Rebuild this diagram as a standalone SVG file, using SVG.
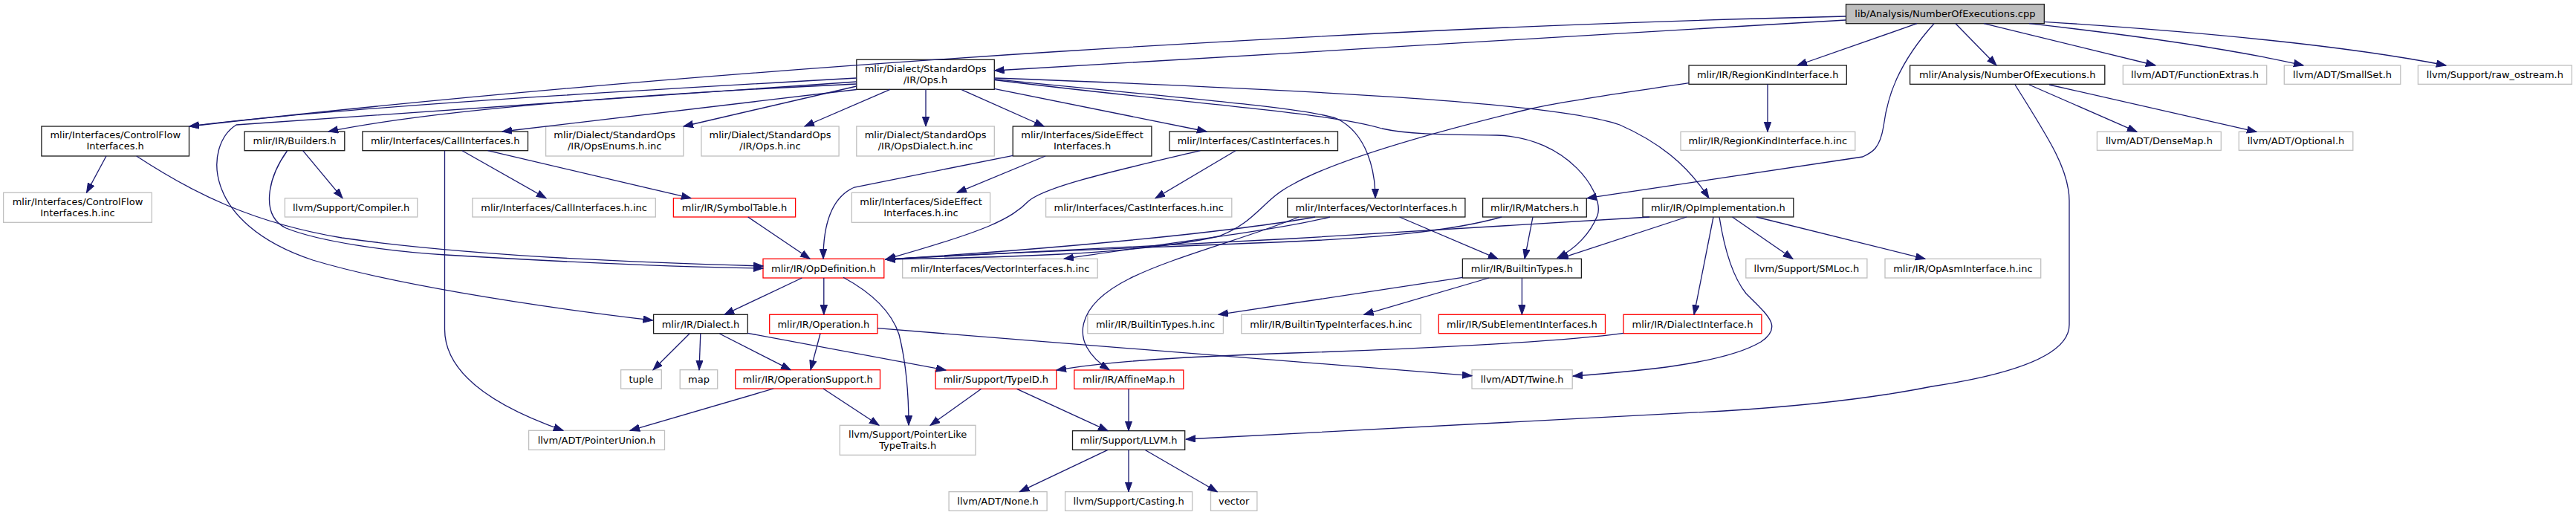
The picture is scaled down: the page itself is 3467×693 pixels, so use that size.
<svg xmlns="http://www.w3.org/2000/svg" width="3467" height="693" viewBox="0 0 3467 693">
<style>
text{font-family:"DejaVu Sans","Liberation Sans",sans-serif;font-size:13px;fill:#000;text-anchor:middle}
rect{fill:#fff;stroke-width:1.3}
.k rect{stroke:#1a1a1a}
.g rect{stroke:#bfbfbf}
.r rect{stroke:#ff0000}
.root rect{fill:#bfbfbf;stroke:#1a1a1a}
#connectors path{fill:none;stroke:#191970;stroke-width:1.3;marker-end:url(#a)}
</style>
<defs>
<marker id="a" markerUnits="userSpaceOnUse" markerWidth="14" markerHeight="11" refX="13" refY="5" orient="auto">
<path d="M0,0.3 L13,5 L0,9.7 z" fill="#191970" stroke="#191970" stroke-width="1"/>
</marker>
</defs>
<rect x="0" y="0" width="3467" height="693" style="fill:#fff;stroke:none"/>
<g id="nodes">
<g id="root" class="root"><rect x="2484.5" y="5.7" width="266.8" height="26"/><text x="2617.9" y="23.2">lib/Analysis/NumberOfExecutions.cpp</text></g>
<g id="opsh" class="k"><rect x="1152.8" y="80.3" width="185.5" height="40"/><text x="1245.6" y="96.6">mlir/Dialect/StandardOps</text><text x="1245.6" y="111.6">/IR/Ops.h</text></g>
<g id="cfi" class="k"><rect x="55.9" y="170" width="198.6" height="40"/><text x="155.2" y="186.3">mlir/Interfaces/ControlFlow</text><text x="155.2" y="201.3">Interfaces.h</text></g>
<g id="cfiinc" class="g"><rect x="4.6" y="259.3" width="199.7" height="40"/><text x="104.5" y="275.6">mlir/Interfaces/ControlFlow</text><text x="104.5" y="290.6">Interfaces.h.inc</text></g>
<g id="builders" class="k"><rect x="329.1" y="177" width="134.7" height="25.7"/><text x="396.5" y="194.4">mlir/IR/Builders.h</text></g>
<g id="compiler" class="g"><rect x="383.4" y="266.7" width="178.3" height="25.3"/><text x="472.6" y="283.9">llvm/Support/Compiler.h</text></g>
<g id="callif" class="k"><rect x="487.9" y="177" width="222.6" height="25.7"/><text x="599.2" y="194.4">mlir/Interfaces/CallInterfaces.h</text></g>
<g id="opsenums" class="g"><rect x="734.6" y="170" width="185.2" height="40"/><text x="827.2" y="186.3">mlir/Dialect/StandardOps</text><text x="827.2" y="201.3">/IR/OpsEnums.h.inc</text></g>
<g id="opsinc" class="g"><rect x="943.9" y="170" width="185.2" height="40"/><text x="1036.5" y="186.3">mlir/Dialect/StandardOps</text><text x="1036.5" y="201.3">/IR/Ops.h.inc</text></g>
<g id="opsdialect" class="g"><rect x="1152.8" y="170" width="185.5" height="40"/><text x="1245.6" y="186.3">mlir/Dialect/StandardOps</text><text x="1245.6" y="201.3">/IR/OpsDialect.h.inc</text></g>
<g id="sideeffect" class="k"><rect x="1363.2" y="170" width="186.7" height="40"/><text x="1456.6" y="186.3">mlir/Interfaces/SideEffect</text><text x="1456.6" y="201.3">Interfaces.h</text></g>
<g id="castif" class="k"><rect x="1574" y="177" width="226.5" height="25.7"/><text x="1687.3" y="194.4">mlir/Interfaces/CastInterfaces.h</text></g>
<g id="callifinc" class="g"><rect x="635.9" y="266.7" width="246.4" height="25.3"/><text x="759.1" y="283.9">mlir/Interfaces/CallInterfaces.h.inc</text></g>
<g id="symtab" class="r"><rect x="906.4" y="266.7" width="164.2" height="25.3"/><text x="988.5" y="283.9">mlir/IR/SymbolTable.h</text></g>
<g id="sideeffectinc" class="g"><rect x="1146.3" y="259.3" width="186.3" height="40"/><text x="1239.5" y="275.6">mlir/Interfaces/SideEffect</text><text x="1239.5" y="290.6">Interfaces.h.inc</text></g>
<g id="castifinc" class="g"><rect x="1407.6" y="266.7" width="250.2" height="25.3"/><text x="1532.7" y="283.9">mlir/Interfaces/CastInterfaces.h.inc</text></g>
<g id="vectorif" class="k"><rect x="1732.8" y="266.7" width="239.1" height="25.3"/><text x="1852.4" y="283.9">mlir/Interfaces/VectorInterfaces.h</text></g>
<g id="matchers" class="k"><rect x="1995.6" y="266.7" width="139.7" height="25.3"/><text x="2065.5" y="283.9">mlir/IR/Matchers.h</text></g>
<g id="opimpl" class="k"><rect x="2211" y="266.7" width="202.8" height="25.3"/><text x="2312.4" y="283.9">mlir/IR/OpImplementation.h</text></g>
<g id="regionkind" class="k"><rect x="2273" y="88" width="212.3" height="25.3"/><text x="2379.2" y="105.2">mlir/IR/RegionKindInterface.h</text></g>
<g id="regionkindinc" class="g"><rect x="2262" y="177.3" width="234.8" height="25"/><text x="2379.4" y="194.3">mlir/IR/RegionKindInterface.h.inc</text></g>
<g id="noeh" class="k"><rect x="2570.6" y="88" width="262.2" height="25.3"/><text x="2701.7" y="105.2">mlir/Analysis/NumberOfExecutions.h</text></g>
<g id="funcextras" class="g"><rect x="2857.3" y="88" width="193.4" height="25.3"/><text x="2954" y="105.2">llvm/ADT/FunctionExtras.h</text></g>
<g id="smallset" class="g"><rect x="3074.3" y="88" width="156.5" height="25.3"/><text x="3152.6" y="105.2">llvm/ADT/SmallSet.h</text></g>
<g id="rawostream" class="g"><rect x="3254.4" y="88" width="207" height="25.3"/><text x="3357.9" y="105.2">llvm/Support/raw_ostream.h</text></g>
<g id="densemap" class="g"><rect x="2822.4" y="177.3" width="166.9" height="25"/><text x="2905.9" y="194.3">llvm/ADT/DenseMap.h</text></g>
<g id="optional" class="g"><rect x="3013.3" y="177.3" width="153.5" height="25"/><text x="3090" y="194.3">llvm/ADT/Optional.h</text></g>
<g id="opdef" class="r"><rect x="1027" y="348.3" width="162.8" height="25.7"/><text x="1108.4" y="365.7">mlir/IR/OpDefinition.h</text></g>
<g id="vectorifinc" class="g"><rect x="1214.7" y="348.3" width="262.5" height="25.7"/><text x="1346" y="365.7">mlir/Interfaces/VectorInterfaces.h.inc</text></g>
<g id="builtintypes" class="k"><rect x="1968.4" y="348.3" width="160" height="25.7"/><text x="2048.4" y="365.7">mlir/IR/BuiltinTypes.h</text></g>
<g id="smloc" class="g"><rect x="2349.8" y="348.3" width="163.1" height="25.7"/><text x="2431.4" y="365.7">llvm/Support/SMLoc.h</text></g>
<g id="opasm" class="g"><rect x="2537" y="348.3" width="209.7" height="25.7"/><text x="2641.9" y="365.7">mlir/IR/OpAsmInterface.h.inc</text></g>
<g id="dialect" class="k"><rect x="879.6" y="423.3" width="126.7" height="25.4"/><text x="943" y="440.5">mlir/IR/Dialect.h</text></g>
<g id="operation" class="r"><rect x="1035.7" y="423.3" width="145.3" height="25.4"/><text x="1108.4" y="440.5">mlir/IR/Operation.h</text></g>
<g id="builtintypesinc" class="g"><rect x="1463.8" y="423.3" width="182.6" height="25.4"/><text x="1555.1" y="440.5">mlir/IR/BuiltinTypes.h.inc</text></g>
<g id="builtintypeifinc" class="g"><rect x="1670.8" y="423.3" width="241.4" height="25.4"/><text x="1791.5" y="440.5">mlir/IR/BuiltinTypeInterfaces.h.inc</text></g>
<g id="subelem" class="r"><rect x="1936.3" y="423.3" width="224.2" height="25.4"/><text x="2048.4" y="440.5">mlir/IR/SubElementInterfaces.h</text></g>
<g id="dialectif" class="r"><rect x="2185" y="423.3" width="185.9" height="25.4"/><text x="2278" y="440.5">mlir/IR/DialectInterface.h</text></g>
<g id="tuple" class="g"><rect x="835.6" y="497.7" width="54.7" height="25.3"/><text x="863" y="514.9">tuple</text></g>
<g id="map" class="g"><rect x="915.2" y="497.7" width="50.5" height="25.3"/><text x="940.5" y="514.9">map</text></g>
<g id="opsupport" class="r"><rect x="989.8" y="497.7" width="194.7" height="25.3"/><text x="1087.2" y="514.9">mlir/IR/OperationSupport.h</text></g>
<g id="typeid" class="r"><rect x="1259.1" y="498" width="162.6" height="25.3"/><text x="1340.4" y="515.2">mlir/Support/TypeID.h</text></g>
<g id="affinemap" class="r"><rect x="1445.8" y="498" width="147" height="25.3"/><text x="1519.3" y="515.2">mlir/IR/AffineMap.h</text></g>
<g id="twine" class="g"><rect x="1981" y="497.7" width="135.2" height="25.3"/><text x="2048.6" y="514.9">llvm/ADT/Twine.h</text></g>
<g id="pointerunion" class="g"><rect x="711.6" y="579.3" width="182.9" height="26"/><text x="803" y="596.8">llvm/ADT/PointerUnion.h</text></g>
<g id="pointerlike" class="g"><rect x="1130.3" y="572.3" width="182.7" height="40"/><text x="1221.7" y="588.6">llvm/Support/PointerLike</text><text x="1221.7" y="603.6">TypeTraits.h</text></g>
<g id="llvmh" class="k"><rect x="1443.5" y="579.7" width="151.2" height="25.6"/><text x="1519.1" y="597">mlir/Support/LLVM.h</text></g>
<g id="none" class="g"><rect x="1277.1" y="661.7" width="132" height="25.6"/><text x="1343.1" y="679">llvm/ADT/None.h</text></g>
<g id="casting" class="g"><rect x="1433.6" y="661.7" width="171" height="25.6"/><text x="1519.1" y="679">llvm/Support/Casting.h</text></g>
<g id="vector" class="g"><rect x="1629.5" y="661.7" width="62.4" height="25.6"/><text x="1660.7" y="679">vector</text></g>
</g>
<g id="connectors">
<path d="M2484,27 L1338.5,95"/>
<path d="M2484,22 C1900,35 1000,85 255,170"/>
<path d="M2580,31.7 L2419,88"/>
<path d="M2603,31.7 C2555,85 2540,130 2535,170 C2530,200 2520,205 2507,211 L2136,266.7"/>
<path d="M2632,31.7 L2687,88"/>
<path d="M2670,31.7 L2901,88"/>
<path d="M2731,31.7 C2850,45 3000,65 3100,88"/>
<path d="M2751,29.3 C2950,42 3150,60 3292,88"/>
<path d="M2731,114 L2876,177.3"/>
<path d="M2758,114 L3037,177.3"/>
<path d="M2712,114 C2760,190 2785,230 2785,270 L2785,437 C2785,480 2700,505 2600,520 C2500,540 2400,548 2320,553 L1596,591"/>
<path d="M2379,113.3 L2379,177.3"/>
<path d="M2273,111.7 C2180,126 2110,135 2057,147 C1900,185 1790,220 1740,248 C1700,268 1690,300 1640,318 C1520,345 1300,347 1192,349"/>
<path d="M1152.8,105 C800,125 450,145 255,170"/>
<path d="M1152.8,110 L318,168 C275,195 270,300 421,350 C520,380 700,410 878.5,431"/>
<path d="M1152.8,113 C900,125 600,145 442,177"/>
<path d="M1152.8,120.5 L676,177"/>
<path d="M1152.8,116 L920,170"/>
<path d="M1198,120.3 L1083,170"/>
<path d="M1246,120.3 L1246,170"/>
<path d="M1294,120.7 L1405,170"/>
<path d="M1338,119.3 L1624,177"/>
<path d="M1338.3,105 C1800,122 2100,140 2180,168 C2230,190 2270,220 2300,266.7"/>
<path d="M1338.3,106.7 C1600,133 1760,145 1800,160 C1840,180 1851,230 1851,266.7"/>
<path d="M1338.3,107.5 C1600,140 1780,150 1860,173 C1900,182 1960,181 2015,182 C2110,185 2160,260 2150,290 C2140,315 2120,335 2096,347"/>
<path d="M143,210 L116.5,259.3"/>
<path d="M183.7,210 C260,260 340,300 460,320 C600,340 800,352 1027,358"/>
<path d="M407.6,202.7 L461,266.7"/>
<path d="M386.5,203 C360,240 350,290 385,307 C430,325 520,338 600,343 C800,355 950,360 1027,361"/>
<path d="M622,202.7 L735,266.7"/>
<path d="M656.5,202.7 L930,266.7"/>
<path d="M598.5,202.7 L598.5,443 C598.5,500 660,545 758,579.3"/>
<path d="M1006.7,292 L1090,348.3"/>
<path d="M1407,210 L1288,259.3"/>
<path d="M1363.2,209.3 L1150,252 C1120,265 1108,300 1108,348.3"/>
<path d="M1663,202.7 L1555,266.7"/>
<path d="M1615.5,202.7 C1500,230 1410,250 1385,270 C1360,295 1330,310 1192,349"/>
<path d="M1790,292 C1720,310 1550,330 1432,348.3"/>
<path d="M1770,292 C1700,305 1500,330 1192,349"/>
<path d="M1883.5,292 L2016,348.3"/>
<path d="M1748,292 C1680,320 1580,345 1520,375 C1450,410 1435,460 1493,497.7"/>
<path d="M2063,292 L2052,348.3"/>
<path d="M2021,292 C1950,312 1850,320 1740,325 C1500,335 1300,342 1192,349"/>
<path d="M2220,292 C2000,306 1800,318 1740,321 C1500,333 1300,342 1192,349"/>
<path d="M2270,292 L2098,348.3"/>
<path d="M2331.5,292 L2413,348.3"/>
<path d="M2364,292 L2591,348.3"/>
<path d="M2306,292 L2280,423.3"/>
<path d="M2314,292 C2320,330 2330,370 2350,395 C2380,425 2400,440 2370,460 C2320,490 2200,500 2117,506"/>
<path d="M1968.4,373.3 L1640,423.3"/>
<path d="M2004,374 L1835.7,423.3"/>
<path d="M2048.4,374 L2048.4,423.3"/>
<path d="M2185,448.3 C2100,460 1900,470 1740,475 C1600,480 1500,485 1422,498"/>
<path d="M928,449 L879,497.7"/>
<path d="M942.8,449 L941,497.7"/>
<path d="M968.4,449 L1064,497.7"/>
<path d="M1006.3,448.3 L1273,498"/>
<path d="M1104,449 L1091,497.7"/>
<path d="M1181,441.7 L1981,505.7"/>
<path d="M1079.4,374 L975,423.3"/>
<path d="M1108.8,374 L1108.8,423.3"/>
<path d="M1135,373.3 C1175,395 1200,420 1210,450 C1220,490 1223,530 1223,572.3"/>
<path d="M1041,523 L848,579.3"/>
<path d="M1108,523 L1183,572.3"/>
<path d="M1320.7,523.3 L1252,572.3"/>
<path d="M1368.6,523.3 L1491,579.7"/>
<path d="M1519,523.3 L1519,579.7"/>
<path d="M1491,605.3 L1372.4,661.7"/>
<path d="M1519,605.3 L1519,661.7"/>
<path d="M1540.8,605.3 L1638.3,661.7"/>
</g>
</svg>
